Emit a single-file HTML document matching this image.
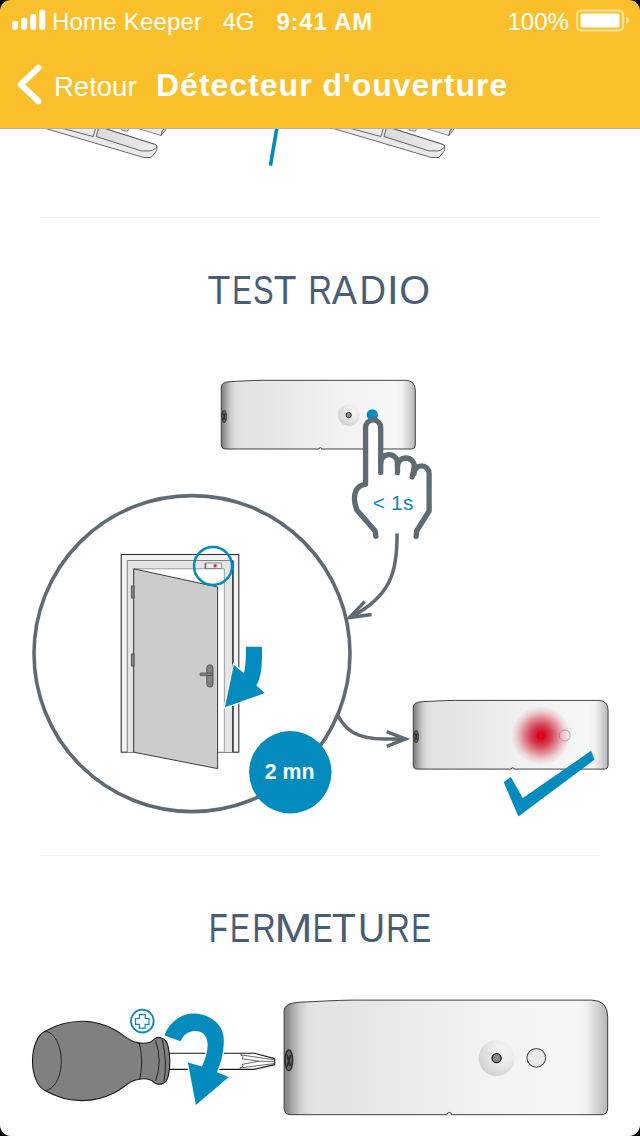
<!DOCTYPE html>
<html><head><meta charset="utf-8">
<style>
html,body{margin:0;padding:0;}
body{width:640px;height:1136px;position:relative;overflow:hidden;background:#fff;font-family:"Liberation Sans",sans-serif;}
.abs{position:absolute;white-space:nowrap;line-height:1;}
#hdr{position:absolute;left:0;top:0;width:640px;height:128px;background:#f9c02c;border-bottom:1px solid #b2b2b6;box-sizing:content-box;}
.st{color:#fff;font-size:24px;}
.h2{color:#4a5d76;font-size:40px;transform-origin:0 0;}
.div{position:absolute;left:40px;width:560px;height:1px;background:#f0f0f0;}
#art{position:absolute;left:0;top:0;}
#corners{position:absolute;left:0;top:0;}
</style></head><body>
<svg id="art" width="640" height="1136" viewBox="0 0 640 1136">
<defs>
<linearGradient id="gdev" x1="0" y1="0" x2="1" y2="0">
<stop offset="0" stop-color="#858585"/>
<stop offset="0.012" stop-color="#8e8e8e"/>
<stop offset="0.029" stop-color="#adadad"/>
<stop offset="0.05" stop-color="#cecece"/>
<stop offset="0.073" stop-color="#dfdfdf"/>
<stop offset="0.1" stop-color="#e3e3e3"/>
<stop offset="0.2" stop-color="#e5e5e5"/>
<stop offset="0.3" stop-color="#e8e8e8"/>
<stop offset="0.6" stop-color="#f2f2f2"/>
<stop offset="0.9" stop-color="#f7f7f7"/>
<stop offset="0.935" stop-color="#f1f1f1"/>
<stop offset="0.965" stop-color="#d6d6d6"/>
<stop offset="1" stop-color="#b4b4b4"/>
</linearGradient>
<radialGradient id="gbtn" cx="0.68" cy="0.32" r="0.78">
<stop offset="0" stop-color="#f4f4f4"/>
<stop offset="0.35" stop-color="#eeeeee"/>
<stop offset="0.7" stop-color="#dedede"/>
<stop offset="1" stop-color="#cecece"/>
</radialGradient>
<radialGradient id="gred" cx="0.5" cy="0.5" r="0.5">
<stop offset="0" stop-color="#e2001a"/>
<stop offset="0.135" stop-color="#e2001a"/>
<stop offset="0.165" stop-color="#d01a32"/>
<stop offset="0.35" stop-color="#d0243c" stop-opacity="0.86"/>
<stop offset="0.6" stop-color="#d0243c" stop-opacity="0.5"/>
<stop offset="0.8" stop-color="#d42a44" stop-opacity="0.2"/>
<stop offset="1" stop-color="#d83048" stop-opacity="0"/>
</radialGradient>
<g id="devbody">
<path d="M0,6.6 C0,3 3.5,1.5 10.5,1.2 C20,0.85 30,0.1 42,0 L184.5,0 Q194,0.3 194,10 L194,64.7 Q194,68.7 190,68.7 L100.3,68.7 a1.3,1.4 0 0 0 -2.6,0 L4,68.7 Q0,68.7 0,64.7 Z" fill="url(#gdev)" stroke="#222" stroke-width="0.85" stroke-linejoin="round" vector-effect="non-scaling-stroke"/>
<ellipse cx="2.85" cy="36.1" rx="2.3" ry="6.2" fill="#686868" stroke="#2a2a2a" stroke-width="0.85"/>
<path d="M1.7,32.6 L3.9,39.6 M4,32.8 L1.8,39.8" stroke="#2e2e2e" stroke-width="1.1" fill="none"/>
</g>
<g id="devbtn">
<circle cx="127.4" cy="34.8" r="10.8" fill="url(#gbtn)"/>
<circle cx="127.4" cy="34.8" r="2.7" fill="#8a8a8a" stroke="#222" stroke-width="0.85"/>
</g>
</defs>

<!-- top partial handles -->
<g id="handle">
<linearGradient id="ghl" x1="0" y1="0" x2="1" y2="0"><stop offset="0" stop-color="#dadada"/><stop offset="1" stop-color="#ececec"/></linearGradient>
<path d="M40.4,127 L143.7,157.5 L151.2,157.5 L156.9,150.3 L156.9,146 Q156.3,144.6 153.7,144 L100,127 Z" fill="#e9e9e9" stroke="#2e2e2e" stroke-width="0.7" stroke-linejoin="round"/>
<path d="M100,127 L153.7,144 Q156.3,144.6 156.9,146 Q156.5,148 155,148.6 Q152.5,150.9 150,150.9 L141.2,150.9 L96.2,136.5 L98.9,127 Z" fill="url(#ghl)" stroke="#2e2e2e" stroke-width="0.7" stroke-linejoin="round"/>
<path d="M57.4,127 L93.2,136.5 L96,127 Z" fill="#ececec" stroke="#2e2e2e" stroke-width="0.7" stroke-linejoin="round"/>
<path d="M119.5,127 L121.9,130.3 L127.5,131.3 L129.8,127 Z" fill="#dedede" stroke="#3a3a3a" stroke-width="0.6"/>
<path d="M133,127 L161.2,135.5 L162.4,130.3 L167,127 Z" fill="#eaeaea" stroke="#3a3a3a" stroke-width="0.6"/>
<path d="M161.2,135.5 L162.4,130.3 L167,127 L166.3,129 Z" fill="#cfcfcf" stroke="#3a3a3a" stroke-width="0.6"/>
</g>
<use href="#handle" x="287.8" y="0"/>
<path d="M277.2,126 L270.4,165.6" stroke="#028bbc" stroke-width="3.6" fill="none"/>

<!-- device 1 -->
<g transform="translate(221.3,380.3)">
<use href="#devbody"/><use href="#devbtn"/>
<circle cx="151" cy="34.5" r="5.6" fill="#028bbc"/>
</g>

<!-- big circle -->
<circle cx="192" cy="653.6" r="158" fill="none" stroke="#5f6b72" stroke-width="3.6"/>

<!-- hand -->
<g fill="none" stroke="#5f6b72" stroke-width="5.3" stroke-linecap="round" stroke-linejoin="round">
<path d="M375.9,536.4 L375.1,530.9 L356.7,509.8 C354.2,503 354,495.5 355.8,491 C357.5,487.5 361,484.6 365.6,484.3 L365.6,427.5 A7.55,7.55 0 0 1 380.7,427.5 L380.7,463 A8.4,8.4 0 0 1 397.5,463 L397.5,466.4 A8.4,8.4 0 0 1 414.3,466.4 L414.1,473.4 A7.5,7.5 0 0 1 429.1,473.4 L429.1,511 L416.6,531 L416.1,536.6" fill="#fff"/>
<path d="M380.7,455 L380.7,472.4"/>
<path d="M397.5,460 L397.5,472.4"/>
<path d="M414.5,466 L412.2,477"/>
</g>
<text x="372.7" y="510.4" font-family="Liberation Sans, sans-serif" font-size="20.8" letter-spacing="0.25" fill="#028bbc">&lt; 1s</text>

<!-- arrow 1 -->
<g fill="none" stroke="#5f6b72" stroke-width="3.5" stroke-linejoin="miter">
<path d="M397,533.5 C397.5,570 392,596 349.5,617.6"/>
<path d="M364.7,601.6 L349.5,617.6 L371.6,614.4"/>
</g>

<!-- arrow 2 -->
<g fill="none" stroke="#5f6b72" stroke-width="3.5">
<path d="M338,715.8 C346,730 356,739 385,739 L405,739"/>
<path d="M386.7,731.6 L405.5,739 L386.7,746.4"/>
</g>

<!-- door -->
<defs>
<clipPath id="cpz"><circle cx="213" cy="566" r="19"/></clipPath>
<linearGradient id="gdet" x1="0" y1="0" x2="1" y2="0"><stop offset="0" stop-color="#d8d8d8"/><stop offset="0.25" stop-color="#ececec"/><stop offset="1" stop-color="#f6f6f6"/></linearGradient>
<g id="frame">
<rect x="121.2" y="554.5" width="117.6" height="197.7" fill="#f2f2f2" stroke="#333" stroke-width="1.1"/>
<path d="M127.3,752.2 L127.3,560.5 L232.9,560.5 L232.9,752.2" fill="#e5e5e5" stroke="#666" stroke-width="0.8"/>
<path d="M232.9,560.5 L232.9,752.2" stroke="#444" stroke-width="1.7" fill="none"/>
<path d="M133.7,752.2 L133.7,568.8 L224.3,568.8 L224.3,752.2 Z" fill="#fff" stroke="#777" stroke-width="0.7"/>
<rect x="205" y="563" width="16.6" height="5.6" fill="url(#gdet)" stroke="#555" stroke-width="0.6"/>
<path d="M205.6,563.4 L205.6,568.2" stroke="#333" stroke-width="0.7"/>
<circle cx="215.2" cy="565.8" r="2.2" fill="#e8405a" fill-opacity="0.45"/>
<circle cx="215.2" cy="565.8" r="1.2" fill="#e0102f"/>
</g>
</defs>
<use href="#frame"/>
<g stroke-linejoin="miter">
<!-- door panel -->
<path d="M133.7,568.8 L217.6,587 L217.6,768.6 L133.7,752.2 Z" fill="#cccccc" stroke="#2a2a2a" stroke-width="0.9"/>
<!-- hinges -->
<rect x="131.3" y="586" width="2.8" height="12" fill="#8a8a8a" stroke="#333" stroke-width="0.7"/>
<rect x="131.3" y="654" width="2.8" height="12" fill="#8a8a8a" stroke="#333" stroke-width="0.7"/>
<!-- handle -->
<rect x="206.8" y="664.8" width="6.2" height="22.3" rx="3.1" fill="#828282" stroke="#444" stroke-width="0.8"/>
<rect x="200" y="673" width="12.4" height="2.6" rx="0.8" fill="#828282" stroke="#444" stroke-width="0.7"/>
</g>
<circle cx="213" cy="566" r="19" fill="#fff"/>
<g clip-path="url(#cpz)"><use href="#frame"/></g>
<circle cx="213" cy="566" r="19" fill="none" stroke="#028bbc" stroke-width="2.5"/>

<!-- door arrow -->
<path id="darr" d="M245.9,646.8 L261.9,646.8 C262.3,662 262,676 256.3,685.6 L264.8,693.1 L224.9,707.3 L233.8,664.8 L244,673.4 C246,664 246,655 245.9,646.8 Z" fill="#028bbc" stroke="#fff" stroke-width="2.4" stroke-linejoin="miter"/>
<path d="M245.9,646.8 L261.9,646.8 C262.3,662 262,676 256.3,685.6 L264.8,693.1 L224.9,707.3 L233.8,664.8 L244,673.4 C246,664 246,655 245.9,646.8 Z" fill="#028bbc"/>

<!-- 2mn -->
<circle cx="290.3" cy="772.3" r="41.2" fill="#028bbc"/>
<text x="289.7" y="779.2" text-anchor="middle" font-family="Liberation Sans, sans-serif" font-weight="bold" font-size="21.3" fill="#fff">2 mn</text>

<!-- device 2 -->
<g transform="translate(413.3,700.4) scale(1.004,1)">
<use href="#devbody"/>
<circle cx="127.2" cy="35.1" r="29.5" fill="url(#gred)"/>
<circle cx="150.9" cy="35.1" r="5.5" fill="#e8e8e8" fill-opacity="0.25" stroke="#707070" stroke-width="0.55"/>
</g>
<path d="M503.6,781.9 L510.8,777.1 L522.8,797.9 L591.1,750.8 L594.6,759.6 L518.4,816.4 Z" fill="#028bbc"/>

<!-- device 3 -->
<g transform="translate(284.1,1000.1) scale(1.668)">
<use href="#devbody"/><use href="#devbtn"/>
<circle cx="151.2" cy="34.6" r="5.6" fill="#e9e9e9" stroke="#4a4a4a" stroke-width="0.6"/>
</g>

<!-- screwdriver -->
<g stroke="#1a1a1a" stroke-width="1.1" stroke-linejoin="round">
<path d="M169,1053.2 L254.4,1053.2 L274.7,1058.6 L274.7,1064.6 L253.8,1069.4 L169,1069.4 Z" fill="#fff"/>
<path d="M240.5,1054.8 L274,1059.8 M239.8,1068 L274,1063.6 M240.5,1054.8 Q245,1056.8 242,1058.8 L259,1061.2 L242,1064.4 Q245,1066.2 239.8,1068 M259,1061.2 L274,1061.6" fill="none" stroke-width="0.7" stroke="#2a2a2a"/>
<path d="M32.5,1061.3 C32.5,1046 38,1034.5 45,1031.3 C56,1025 70,1021.3 82.5,1021.3 C95,1021.3 106,1025 115,1030 C123,1034.5 128,1039.6 134,1041.8 C140,1043.8 146,1043.6 150.5,1042 C152.5,1041.2 153.5,1039.6 155,1038.6 C157,1037.2 159.5,1037.2 161.5,1038.1 C165.5,1039.5 167.2,1042 168,1046 C169.4,1052 169.8,1056 169.8,1061.3 C169.8,1067 169.4,1072 168,1077 C167.2,1080.5 165.5,1083 161.5,1083.9 C159.5,1084.5 157,1084.2 155,1083 C153.5,1082 152.5,1080.6 150.5,1079.9 C146,1078.4 140,1078.4 134,1080.5 C128,1082.8 123,1088 115,1092.5 C106,1097 95,1100.6 82.5,1100.6 C70,1100.6 56,1097 45,1090.5 C38,1087 32.5,1076 32.5,1061.3 Z" fill="#808080"/>
<path d="M45,1031.3 C54,1032 61.3,1045 61.3,1061.3 C61.3,1077 54,1090 45,1090.5" fill="none" stroke-width="0.9"/>
<path d="M139.2,1042.7 Q144,1061 139.6,1079.8" fill="none" stroke-width="0.9"/>
<path d="M155.6,1040.3 Q162.8,1061 155.6,1080.8" fill="none" stroke-width="0.9"/>
<path d="M162.2,1039.4 Q167.6,1061 164,1081.8" fill="none" stroke-width="0.9"/>
</g>
<!-- plus icon -->
<circle cx="142.3" cy="1021.1" r="11.4" fill="#fff" stroke="#028bbc" stroke-width="1.8"/>
<path d="M139.4,1014.7 h5.8 v3.8 h3.8 v5.8 h-3.8 v3.8 h-5.8 v-3.8 h-3.8 v-5.8 h3.8 Z" fill="#fff" stroke="#028bbc" stroke-width="1.2"/>
<!-- rotation arrow -->
<path d="M164.6,1035.6 C168,1024 180,1013.5 193.5,1013.6 C210,1014 223.8,1024 223.8,1040 C223.8,1053 221,1063.5 216.8,1072.2 L228.8,1076.9 L195.9,1105 L187.9,1062.6 L202,1066.6 C206,1058 207.9,1050 207.6,1043.5 C207,1034.5 202,1030.9 195,1030.9 C188,1030.9 183.5,1035 180.4,1041.3 Z" fill="#028bbc" stroke="#fff" stroke-width="2.6"/>
<path d="M164.6,1035.6 C168,1024 180,1013.5 193.5,1013.6 C210,1014 223.8,1024 223.8,1040 C223.8,1053 221,1063.5 216.8,1072.2 L228.8,1076.9 L195.9,1105 L187.9,1062.6 L202,1066.6 C206,1058 207.9,1050 207.6,1043.5 C207,1034.5 202,1030.9 195,1030.9 C188,1030.9 183.5,1035 180.4,1041.3 Z" fill="#028bbc"/>
<!-- headings -->
<g font-family="Liberation Sans, sans-serif" fill="#4a5d76"><text transform="translate(207.56,303.6) scale(0.906,1)" font-size="41.4">T</text><text transform="translate(232.29,303.6) scale(0.709,1)" font-size="41.4">E</text><text transform="translate(253.00,303.6) scale(0.747,1)" font-size="41.4">S</text><text transform="translate(273.77,303.6) scale(0.897,1)" font-size="41.4">T</text><text transform="translate(308.29,303.6) scale(0.797,1)" font-size="41.4">R</text><text transform="translate(331.83,303.6) scale(0.911,1)" font-size="41.4">A</text><text transform="translate(359.49,303.6) scale(0.885,1)" font-size="41.4">D</text><text transform="translate(386.94,303.6) scale(1.010,1)" font-size="41.4">I</text><text transform="translate(399.13,303.6) scale(0.955,1)" font-size="41.4">O</text></g>
<g font-family="Liberation Sans, sans-serif" fill="#4a5d76"><text transform="translate(208.65,941.6) scale(0.751,1)" font-size="41.4">F</text><text transform="translate(230.04,941.6) scale(0.724,1)" font-size="41.4">E</text><text transform="translate(252.13,941.6) scale(0.785,1)" font-size="41.4">R</text><text transform="translate(274.46,941.6) scale(1.101,1)" font-size="41.4">M</text><text transform="translate(312.65,941.6) scale(0.722,1)" font-size="41.4">E</text><text transform="translate(331.86,941.6) scale(0.955,1)" font-size="41.4">T</text><text transform="translate(357.91,941.6) scale(0.906,1)" font-size="41.4">U</text><text transform="translate(386.08,941.6) scale(0.801,1)" font-size="41.4">R</text><text transform="translate(411.15,941.6) scale(0.722,1)" font-size="41.4">E</text></g>
</svg>
<div class="div" style="top:217px"></div>
<div class="div" style="top:855px"></div>
<div id="hdr"></div>
<div class="abs st" id="s1" style="left:52px;top:9.5px;letter-spacing:0.2px;">Home Keeper</div>
<div class="abs st" id="s2" style="left:222.5px;top:9.5px;">4G</div>
<div class="abs st" id="s3" style="left:276.5px;top:9.5px;font-weight:bold;letter-spacing:0.75px;">9:41 AM</div>
<div class="abs st" id="s4" style="left:507.5px;top:9.5px;">100%</div>
<div class="abs" id="n1" style="left:54px;top:72.7px;color:#fff;font-size:27.5px;">Retour</div>
<div class="abs" id="n2" style="left:156px;top:68.5px;color:#fff;font-size:32px;font-weight:bold;letter-spacing:1px;">Détecteur d'ouverture</div>
<svg id="corners" width="640" height="1136" viewBox="0 0 640 1136">
<!-- signal -->
<rect x="12" y="21.1" width="6.1" height="8.7" rx="2" fill="#fff"/>
<rect x="21.1" y="17.8" width="6.1" height="12" rx="2" fill="#fff"/>
<rect x="30.2" y="14" width="6.1" height="15.8" rx="2" fill="#fff"/>
<rect x="39.2" y="9.8" width="6.1" height="20" rx="2" fill="#fff"/>
<!-- battery -->
<rect x="577" y="10.5" width="46" height="20" rx="4" fill="none" stroke="#fce29a" stroke-width="2"/>
<rect x="580.5" y="13.5" width="39" height="14" rx="2" fill="#fff"/>
<path d="M626 16.5 L626 24.5 Q629.5 22 629.5 20.5 Q629.5 19 626 16.5Z" fill="#fce29a"/>
<!-- chevron -->
<path d="M38.5 67.7 L20.7 84.5 L38.5 101.3" fill="none" stroke="#fff" stroke-width="6" stroke-linecap="round" stroke-linejoin="round"/>
<!-- corners -->
<path d="M0 0 H11 A11 11 0 0 0 0 11Z" fill="#000"/>
<path d="M640 0 H629 A11 11 0 0 1 640 11Z" fill="#000"/>
<path d="M0 1136 H11 A11 11 0 0 1 0 1125Z" fill="#000"/>
<path d="M640 1136 H629 A11 11 0 0 0 640 1125Z" fill="#000"/>
</svg>
</body></html>
